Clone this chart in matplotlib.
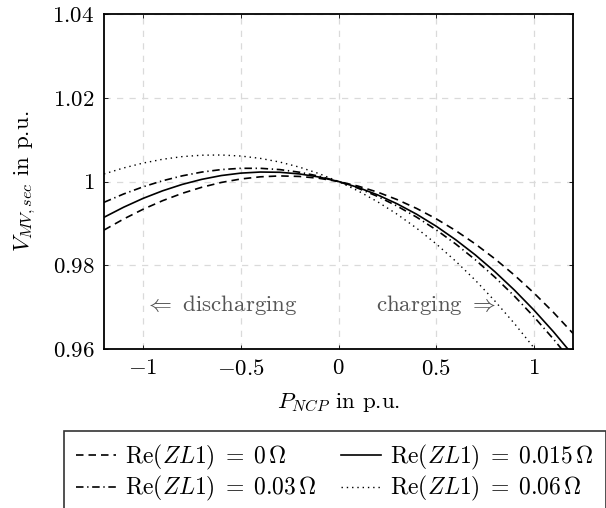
import matplotlib
matplotlib.use("Agg")
import matplotlib.pyplot as plt

plt.rcParams["font.family"] = "serif"
plt.rcParams["font.serif"] = ["cmr10"]
plt.rcParams["mathtext.fontset"] = "cm"
plt.rcParams["axes.formatter.use_mathtext"] = True

# P_NCP in p.u.
p_ncp = [-1.2, -1.1, -1.0, -0.9, -0.8, -0.7, -0.6, -0.5, -0.4, -0.3, -0.2, -0.1, 0.0,
         0.1, 0.2, 0.3, 0.4, 0.5, 0.6, 0.7, 0.8, 0.9, 1.0, 1.1, 1.2]

# V_MV,sec in p.u. for each Re(ZL1)
v_r0 = [0.98840, 0.99103, 0.99337, 0.99542, 0.99717, 0.99862, 0.99977, 1.00060, 1.00112,
        1.00133, 1.00121, 1.00077, 1.00000, 0.99890, 0.99746, 0.99568, 0.99356, 0.99109,
        0.98827, 0.98509, 0.98155, 0.97765, 0.97338, 0.96874, 0.96372]
v_r015 = [0.99145, 0.99385, 0.99597, 0.99778, 0.99930, 1.00051, 1.00142, 1.00200, 1.00226,
          1.00220, 1.00181, 1.00107, 1.00000, 0.99858, 0.99681, 0.99467, 0.99218, 0.98932,
          0.98608, 0.98247, 0.97847, 0.97408, 0.96930, 0.96412, 0.95854]
v_r03 = [0.99503, 0.99701, 0.99873, 1.00018, 1.00135, 1.00225, 1.00285, 1.00315, 1.00315,
         1.00284, 1.00222, 1.00128, 1.00000, 0.99839, 0.99644, 0.99413, 0.99148, 0.98846,
         0.98507, 0.98131, 0.97716, 0.97263, 0.96770, 0.96237, 0.95663]
v_r06 = [1.00180, 1.00323, 1.00440, 1.00531, 1.00594, 1.00628, 1.00633, 1.00608, 1.00552,
         1.00464, 1.00343, 1.00189, 1.00000, 0.99776, 0.99516, 0.99219, 0.98884, 0.98510,
         0.98096, 0.97643, 0.97147, 0.96610, 0.96030, 0.95406, 0.94737]

labels = [r"$\mathrm{Re}(ZL1)\;=\;0\,\Omega$",
          r"$\mathrm{Re}(ZL1)\;=\;0.015\,\Omega$",
          r"$\mathrm{Re}(ZL1)\;=\;0.03\,\Omega$",
          r"$\mathrm{Re}(ZL1)\;=\;0.06\,\Omega$"]

x_ticks = [-1, -0.5, 0, 0.5, 1]
x_ticklabels = [r"$-1$", r"$-0.5$", r"$0$", r"$0.5$", r"$1$"]
y_ticks = [0.96, 0.98, 1.0, 1.02, 1.04]
y_ticklabels = [r"$0.96$", r"$0.98$", r"$1$", r"$1.02$", r"$1.04$"]

fs = 16.5

fig = plt.figure(figsize=(6.06, 5.08), dpi=100)
ax = fig.add_axes([104 / 606, 1 - 349 / 508, 469 / 606, 335 / 508])

lw = 1.2
l0, = ax.plot(p_ncp, v_r0, color="black", lw=lw, linestyle=(0, (4.5, 3.0)))
l1, = ax.plot(p_ncp, v_r015, color="black", lw=lw)
l2, = ax.plot(p_ncp, v_r03, color="black", lw=lw, linestyle=(0, (4.5, 2.2, 0.8, 2.2)))
l3, = ax.plot(p_ncp, v_r06, color="black", lw=1.0, linestyle=(0, (1.0, 2.8)))

ax.set_xlim(-1.2, 1.2)
ax.set_ylim(0.96, 1.04)
ax.set_xticks(x_ticks)
ax.set_xticklabels(x_ticklabels, fontsize=fs)
ax.set_yticks(y_ticks)
ax.set_yticklabels(y_ticklabels, fontsize=fs)
ax.tick_params(direction="in", length=3, width=0.6, top=True, right=True, pad=7)
ax.grid(True, color="#dadada", linestyle=(0, (5, 5)), lw=0.9)
ax.set_axisbelow(True)
for s in ax.spines.values():
    s.set_linewidth(1.3)

ax.set_xlabel(r"$P_{NCP}$ in p.u.", fontsize=fs, labelpad=9)
ax.set_ylabel(r"$V_{MV,sec}$ in p.u.", fontsize=fs, labelpad=10)

ax.text(-0.6, 0.9705, r"$\Leftarrow$ discharging", fontsize=fs, color="#555555",
        ha="center", va="center")
ax.text(0.5, 0.9705, r"charging $\Rightarrow$", fontsize=fs, color="#555555",
        ha="center", va="center")

leg = fig.legend([l0, l2, l1, l3], [labels[0], labels[2], labels[1], labels[3]],
                 loc="upper left", bbox_to_anchor=(64 / 606, 1 - 431 / 508),
                 ncol=2, fontsize=17, frameon=True, fancybox=False,
                 handlelength=1.7, handletextpad=0.4, columnspacing=1.0,
                 borderpad=0.5, labelspacing=0.1, borderaxespad=0)
leg.get_frame().set_edgecolor("black")
leg.get_frame().set_linewidth(1.2)

fig.savefig("out.png", dpi=100)
